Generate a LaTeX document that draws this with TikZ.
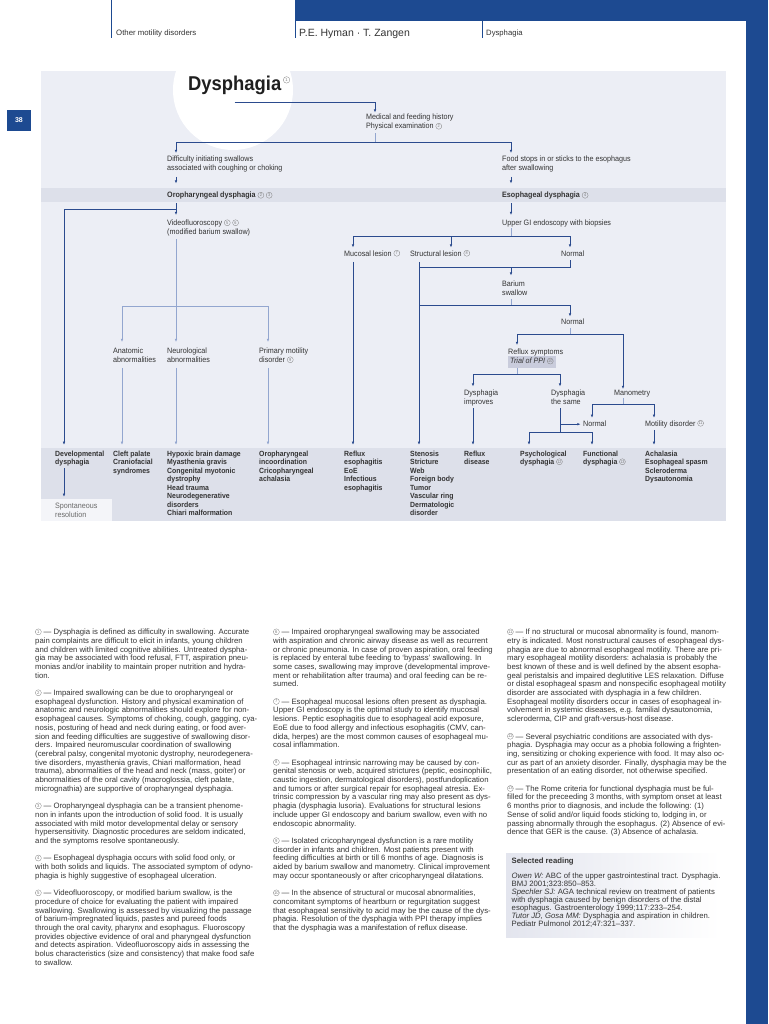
\documentclass[tikz,border=0pt]{standalone}
\usepackage{fontspec}
\setmainfont{Liberation Sans}
\newfontfamily\cond{Liberation Sans}[FakeStretch=0.92]
\usetikzlibrary{arrows.meta}
\definecolor{hblue}{HTML}{1D4A91}
\definecolor{panel}{HTML}{ECEEF5}
\definecolor{band}{HTML}{DDE0EA}
\definecolor{spbox}{HTML}{F4F5F9}
\definecolor{ppi}{HTML}{C9CCDC}
\definecolor{lnd}{HTML}{2B4B8E}
\definecolor{lnl}{HTML}{93A6CF}
\definecolor{txt}{HTML}{333333}
\definecolor{ftxt}{HTML}{363636}
\definecolor{sgray}{HTML}{6A6A6A}
\definecolor{cgray}{HTML}{7E7E7E}
\definecolor{srd}{HTML}{E3E5EE}
\newcommand\ffc{\cond\fontsize{7.8}{9}\selectfont}
\newcommand\ffcb{\cond\bfseries\fontsize{7.8}{9}\selectfont}
\newcommand\ffb{\cond\bfseries\fontsize{7.5}{8.5}\selectfont}
\newcommand\ffn{\fontsize{7.75}{8.7}\selectfont}
\newcommand\cn[2][6pt]{\tikz[baseline={([yshift=0.4pt]cnx.south)}]\node[circle, draw=cgray, fill=none, anchor=center, line width=0.3pt, inner sep=0pt, minimum size=#1, font=\mdseries\upshape\fontsize{4.2}{4.2}\selectfont, text=cgray] (cnx) {#2};}
\newcommand\ml[1]{\begin{tabular}[t]{@{}l@{}}#1\end{tabular}}
\tikzset{
  ft/.style={anchor=base west, inner sep=0pt, font=\ffc, text=txt},
  ftb/.style={anchor=base west, inner sep=0pt, font=\ffcb, text=txt},
  fb/.style={anchor=base west, inner sep=0pt, font=\ffb, text=txt},
  fnote/.style={anchor=base west, inner sep=0pt, font=\ffn, text=ftxt},
  hdr/.style={anchor=base west, inner sep=0pt, text=txt},
  conn/.style={draw=lnd, line width=0.6pt},
  connl/.style={draw=lnl, line width=0.6pt},
  arr/.style={conn, -{Latex[length=3.2pt,width=2.6pt]}},
  arrl/.style={connl, -{Latex[length=3.2pt,width=2.6pt]}},
}
\begin{document}
\begin{tikzpicture}[x=1pt,y=-1pt]
\useasboundingbox (0,0) rectangle (768,1024);
% page furniture
\fill[white] (0,0) rectangle (768,1024);
\fill[hblue] (295,0) rectangle (768,21);
\fill[hblue] (746,0) rectangle (768,1024);
\fill[hblue] (7,110) rectangle (31,131);
\node[inner sep=0pt, text=white, font=\bfseries\fontsize{7}{7}\selectfont] (pagenum) at (19,120.5) {38};
\draw[hblue, line width=0.8pt] (111,0) -- (111,37.7);
\draw[hblue, line width=0.8pt] (295.5,21) -- (295.5,37.7);
\draw[hblue, line width=0.8pt] (482.8,21) -- (482.8,37.7);
\node[hdr, font=\fontsize{7.8}{8}\selectfont] (h1) at (116,35.3) {Other motility disorders};
\node[hdr, font=\fontsize{10.5}{11}\selectfont] (h2) at (299,36.5) {P.E. Hyman · T. Zangen};
\node[hdr, font=\fontsize{7.7}{8}\selectfont] (h3) at (486,35.3) {Dysphagia};
% panel
\fill[panel] (41,71) rectangle (726,521);
\begin{scope}
  \clip (41,71) rectangle (726,521);
  \fill[white] (233,90) circle[radius=60];
\end{scope}
\fill[band] (41,188) rectangle (726,202);
\fill[band] (41,448) rectangle (726,521);
\fill[spbox] (41,499) rectangle (112,521);
% title
\node[anchor=base west, inner sep=0pt, text=black!88, font=\cond\bfseries\fontsize{20}{20}\selectfont] (title) at (188,90.5) {Dysphagia};
\node[anchor=north west, inner sep=0pt] (tsup) at ([xshift=1.5pt,yshift=-0.5pt]title.north east) {\cn[6.5pt]{1}};
% flowchart nodes
\node[ft] (medical) at (366,120) {\ml{Medical and feeding history\\Physical examination \cn{2}}};
\node[ft] (diff) at (167,161.5) {\ml{Difficulty initiating swallows\\associated with coughing or choking}};
\node[ft] (food) at (502,161.5) {\ml{Food stops in or sticks to the esophagus\\after swallowing}};
\node[ftb] (oro) at (167,198) {\ml{Oropharyngeal dysphagia \cn{2} \cn{3}}};
\node[ftb] (eso) at (502,198) {\ml{Esophageal dysphagia \cn{4}}};
\node[ft] (video) at (167,225.5) {\ml{Videofluoroscopy \cn{5} \cn{6}\\(modified barium swallow)}};
\node[ft] (upper) at (502,225.5) {\ml{Upper GI endoscopy with biopsies}};
\node[ft] (mucosal) at (344,256) {\ml{Mucosal lesion \cn{7}}};
\node[ft] (struct) at (410,256) {\ml{Structural lesion \cn{8}}};
\node[ft] (normal1) at (561,256) {\ml{Normal}};
\node[ft] (barium) at (502,286) {\ml{Barium\\swallow}};
\node[ft] (normal2) at (561,324.5) {\ml{Normal}};
\node[ft] (reflux) at (508,354.5) {\ml{Reflux symptoms}};
\node[ft, fill=ppi, inner xsep=2.5pt, inner ysep=1.2pt] (trial) at (507.5,363.8) {\ml{\textit{Trial of PPI} \cn{10}}};
\node[ft] (anat) at (113,353.5) {\ml{Anatomic\\abnormalities}};
\node[ft] (neuro) at (167,353.5) {\ml{Neurological\\abnormalities}};
\node[ft] (prim) at (259,353.5) {\ml{Primary motility\\disorder \cn{9}}};
\node[ft] (improves) at (464,395.5) {\ml{Dysphagia\\improves}};
\node[ft] (same) at (551,395.5) {\ml{Dysphagia\\the same}};
\node[ft] (mano) at (614,395.5) {\ml{Manometry}};
\node[ft] (normal3) at (583,426) {\ml{Normal}};
\node[ft] (motil) at (645,426) {\ml{Motility disorder \cn{11}}};
% bottom band
\node[fb] (devel) at (55,456) {\ml{Developmental\\dysphagia}};
\node[fb] (cleft) at (113,456) {\ml{Cleft palate\\Craniofacial\\syndromes}};
\node[fb] (hypoxic) at (167,456) {\ml{Hypoxic brain damage\\Myasthenia gravis\\Congenital myotonic\\dystrophy\\Head trauma\\Neurodegenerative\\disorders\\Chiari malformation}};
\node[fb] (oroinc) at (259,456) {\ml{Oropharyngeal\\incoordination\\Cricopharyngeal\\achalasia}};
\node[fb] (refluxeso) at (344,456) {\ml{Reflux\\esophagitis\\EoE\\Infectious\\esophagitis}};
\node[fb] (stenosis) at (410,456) {\ml{Stenosis\\Stricture\\Web\\Foreign body\\Tumor\\Vascular ring\\Dermatologic\\disorder}};
\node[fb] (refluxdis) at (464,456) {\ml{Reflux\\disease}};
\node[fb] (psych) at (520,456) {\ml{Psychological\\dysphagia \cn{12}}};
\node[fb] (func) at (583,456) {\ml{Functional\\dysphagia \cn{13}}};
\node[fb] (achal) at (645,456) {\ml{Achalasia\\Esophageal spasm\\Scleroderma\\Dysautonomia}};
\node[ft, text=sgray] (spont) at (55,508.8) {\ml{Spontaneous\\resolution}};
% connectors - top
\draw[arr] ([yshift=-7pt]title.south) -| ([xshift=9pt,yshift=1pt]medical.north west);
\coordinate (j1) at (375,142);
\draw[connl] ([xshift=9pt,yshift=-1.5pt]medical.south west) -- (j1);
\draw[arr] (j1) -| ([xshift=9pt,yshift=2pt]diff.north west);
\draw[arr] (j1) -| ([xshift=9pt,yshift=2pt]food.north west);
\draw[arr] ([xshift=9pt,yshift=-3.5pt]diff.south west) -- ([xshift=9pt,yshift=8pt]oro.north west);
\draw[arr] ([xshift=9pt,yshift=-3.5pt]food.south west) -- ([xshift=9pt,yshift=8pt]eso.north west);
\draw[arr] ([xshift=9pt,yshift=-2.3pt]oro.south west) -- ([xshift=9pt,yshift=4pt]video.north west);
\coordinate (j2) at (176,209);
\draw[arr] (j2) -| ([xshift=9pt,yshift=5pt]devel.north west);
\draw[arr] ([xshift=9pt,yshift=-2.3pt]eso.south west) -- ([xshift=9pt,yshift=4pt]upper.north west);
% left subtree
\draw[arrl] ([xshift=9pt,yshift=-2pt]video.south west) -- ([xshift=9pt,yshift=5pt]neuro.north west);
\coordinate (j3) at (176,306);
\draw[arrl] (j3) -| ([xshift=9pt,yshift=5pt]anat.north west);
\draw[arrl] (j3) -| ([xshift=9pt,yshift=5pt]prim.north west);
\draw[arrl] ([xshift=9pt,yshift=-2.5pt]anat.south west) -- ([xshift=9pt,yshift=5pt]cleft.north west);
\draw[arrl] ([xshift=9pt,yshift=-2.5pt]neuro.south west) -- ([xshift=9pt,yshift=5pt]hypoxic.north west);
\draw[arrl] ([xshift=9pt,yshift=-2.5pt]prim.south west) -- ([xshift=9pt,yshift=5pt]oroinc.north west);
\draw[arr] ([xshift=9pt,yshift=-1pt]devel.south west) -- ([xshift=9pt,yshift=5.5pt]spont.north west);
% right subtree
\coordinate (j4) at (511,236);
\draw[connl] ([xshift=9pt]upper.south west) -- (j4);
\draw[arr] (j4) -| ([xshift=9pt,yshift=2pt]mucosal.north west);
\draw[arr] (j4) -| ([xshift=41pt,yshift=2pt]struct.north west);
\draw[arr] (j4) -| ([xshift=9pt,yshift=2pt]normal1.north west);
\draw[arr] ([xshift=9pt,yshift=-3pt]mucosal.south west) -- ([xshift=9pt,yshift=5pt]refluxeso.north west);
\draw[arr] ([xshift=9pt,yshift=-3pt]struct.south west) -- ([xshift=9pt,yshift=5pt]stenosis.north west);
\coordinate (k1) at (419,267);
\draw[conn] ([xshift=9pt,yshift=-1.5pt]normal1.south west) |- (k1);
\coordinate (j5) at (511,267);
\draw[arr] (j5) -- ([xshift=9pt,yshift=4pt]barium.north west);
\coordinate (j6) at (511,305);
\coordinate (k2) at (419,305);
\draw[connl] ([xshift=9pt,yshift=-1.5pt]barium.south west) -- (j6);
\draw[conn] (k2) -- (j6);
\draw[arr] (j6) -| ([xshift=9pt,yshift=1.5pt]normal2.north west);
\coordinate (j7) at (570,334);
\draw[connl] ([xshift=9pt,yshift=-0.5pt]normal2.south west) -- (j7);
\draw[arr] (j7) -| ([xshift=9pt,yshift=3pt]reflux.north west);
\draw[arr] (j7) -| ([xshift=9pt]mano.north west);
\coordinate (j8) at (517,374);
\draw[connl] (trial.south -| j8) -- (j8);
\draw[arr] (j8) -| ([xshift=9pt,yshift=2.5pt]improves.north west);
\draw[arr] (j8) -| ([xshift=9pt,yshift=2.5pt]same.north west);
\draw[arr] ([xshift=9pt,yshift=-1pt]improves.south west) -- ([xshift=9pt,yshift=5pt]refluxdis.north west);
\coordinate (j9) at (560,432);
\draw[conn] ([xshift=9pt,yshift=-1pt]same.south west) -- (j9);
\draw[arr] (normal3.west -| j9) -- ([xshift=-2.5pt]normal3.west);
\draw[arr] (j9) -| ([xshift=9pt,yshift=5pt]psych.north west);
\draw[arr] (j9) -| ([xshift=9pt,yshift=5pt]func.north west);
\coordinate (j10) at (623,404);
\draw[connl] ([xshift=9pt]mano.south west) -- (j10);
\draw[arr] (j10) -| ([xshift=9pt,yshift=1.7pt]normal3.north west);
\draw[arr] (j10) -| ([xshift=9pt,yshift=1.7pt]motil.north west);
\draw[arr] ([xshift=9pt,yshift=-1pt]motil.south west) -- ([xshift=9pt,yshift=5pt]achal.north west);
% footnotes
\node[fnote] (fn1) at (35,634.6) {\ml{%
\cn{1} — Dysphagia is defined as difficulty in swallowing. Accurate\\
pain complaints are difficult to elicit in infants, young children\\
and children with limited cognitive abilities. Untreated dyspha-\\
gia may be associated with food refusal, FTT, aspiration pneu-\\
monias and/or inability to maintain proper nutrition and hydra-\\
tion.\\[8.7pt]
\cn{2} — Impaired swallowing can be due to oropharyngeal or\\
esophageal dysfunction. History and physical examination of\\
anatomic and neurologic abnormalities should explore for non-\\
esophageal causes. Symptoms of choking, cough, gagging, cya-\\
nosis, posturing of head and neck during eating, or food aver-\\
sion and feeding difficulties are suggestive of swallowing disor-\\
ders. Impaired neuromuscular coordination of swallowing\\
(cerebral palsy, congenital myotonic dystrophy, neurodegenera-\\
tive disorders, myasthenia gravis, Chiari malformation, head\\
trauma), abnormalities of the head and neck (mass, goiter) or\\
abnormalities of the oral cavity (macroglossia, cleft palate,\\
micrognathia) are supportive of oropharyngeal dysphagia.\\[8.7pt]
\cn{3} — Oropharyngeal dysphagia can be a transient phenome-\\
non in infants upon the introduction of solid food. It is usually\\
associated with mild motor developmental delay or sensory\\
hypersensitivity. Diagnostic procedures are seldom indicated,\\
and the symptoms resolve spontaneously.\\[8.7pt]
\cn{4} — Esophageal dysphagia occurs with solid food only, or\\
with both solids and liquids. The associated symptom of odyno-\\
phagia is highly suggestive of esophageal ulceration.\\[8.7pt]
\cn{5} — Videofluoroscopy, or modified barium swallow, is the\\
procedure of choice for evaluating the patient with impaired\\
swallowing. Swallowing is assessed by visualizing the passage\\
of barium-impregnated liquids, pastes and pureed foods\\
through the oral cavity, pharynx and esophagus. Fluoroscopy\\
provides objective evidence of oral and pharyngeal dysfunction\\
and detects aspiration. Videofluoroscopy aids in assessing the\\
bolus characteristics (size and consistency) that make food safe\\
to swallow.}};
\node[fnote] (fn2) at (273,634.6) {\ml{%
\cn{6} — Impaired oropharyngeal swallowing may be associated\\
with aspiration and chronic airway disease as well as recurrent\\
or chronic pneumonia. In case of proven aspiration, oral feeding\\
is replaced by enteral tube feeding to ‘bypass’ swallowing. In\\
some cases, swallowing may improve (developmental improve-\\
ment or rehabilitation after trauma) and oral feeding can be re-\\
sumed.\\[8.7pt]
\cn{7} — Esophageal mucosal lesions often present as dysphagia.\\
Upper GI endoscopy is the optimal study to identify mucosal\\
lesions. Peptic esophagitis due to esophageal acid exposure,\\
EoE due to food allergy and infectious esophagitis (CMV, can-\\
dida, herpes) are the most common causes of esophageal mu-\\
cosal inflammation.\\[8.7pt]
\cn{8} — Esophageal intrinsic narrowing may be caused by con-\\
genital stenosis or web, acquired strictures (peptic, eosinophilic,\\
caustic ingestion, dermatological disorders), postfundoplication\\
and tumors or after surgical repair for esophageal atresia. Ex-\\
trinsic compression by a vascular ring may also present as dys-\\
phagia (dysphagia lusoria). Evaluations for structural lesions\\
include upper GI endoscopy and barium swallow, even with no\\
endoscopic abnormality.\\[8.7pt]
\cn{9} — Isolated cricopharyngeal dysfunction is a rare motility\\
disorder in infants and children. Most patients present with\\
feeding difficulties at birth or till 6 months of age. Diagnosis is\\
aided by barium swallow and manometry. Clinical improvement\\
may occur spontaneously or after cricopharyngeal dilatations.\\[8.7pt]
\cn{10} — In the absence of structural or mucosal abnormalities,\\
concomitant symptoms of heartburn or regurgitation suggest\\
that esophageal sensitivity to acid may be the cause of the dys-\\
phagia. Resolution of the dysphagia with PPI therapy implies\\
that the dysphagia was a manifestation of reflux disease.}};
\node[fnote] (fn3) at (507,634.6) {\ml{%
\cn{11} — If no structural or mucosal abnormality is found, manom-\\
etry is indicated. Most nonstructural causes of esophageal dys-\\
phagia are due to abnormal esophageal motility. There are pri-\\
mary esophageal motility disorders: achalasia is probably the\\
best known of these and is well defined by the absent esopha-\\
geal peristalsis and impaired deglutitive LES relaxation. Diffuse\\
or distal esophageal spasm and nonspecific esophageal motility\\
disorder are associated with dysphagia in a few children.\\
Esophageal motility disorders occur in cases of esophageal in-\\
volvement in systemic diseases, e.g. familial dysautonomia,\\
scleroderma, CIP and graft-versus-host disease.\\[8.7pt]
\cn{12} — Several psychiatric conditions are associated with dys-\\
phagia. Dysphagia may occur as a phobia following a frighten-\\
ing, sensitizing or choking experience with food. It may also oc-\\
cur as part of an anxiety disorder. Finally, dysphagia may be the\\
presentation of an eating disorder, not otherwise specified.\\[8.7pt]
\cn{13} — The Rome criteria for functional dysphagia must be ful-\\
filled for the preceeding 3 months, with symptom onset at least\\
6 months prior to diagnosis, and include the following: (1)\\
Sense of solid and/or liquid foods sticking to, lodging in, or\\
passing abnormally through the esophagus. (2) Absence of evi-\\
dence that GER is the cause. (3) Absence of achalasia.}};
% selected reading
\shade[left color=srd, right color=white] (506,853) rectangle (720,937);
\node[fnote, font=\bfseries\fontsize{7.75}{8}\selectfont] (srtitle) at (511.5,863.6) {Selected reading};
\node[fnote, font=\fontsize{7.75}{8.1}\selectfont] (srbody) at (511.5,878) {\ml{%
\textit{Owen W:} ABC of the upper gastrointestinal tract. Dysphagia.\\
BMJ 2001;323:850–853.\\
\textit{Spechler SJ:} AGA technical review on treatment of patients\\
with dysphagia caused by benign disorders of the distal\\
esophagus. Gastroenterology 1999;117:233–254.\\
\textit{Tutor JD, Gosa MM:} Dysphagia and aspiration in children.\\
Pediatr Pulmonol 2012;47:321–337.}};
\end{tikzpicture}
\end{document}
